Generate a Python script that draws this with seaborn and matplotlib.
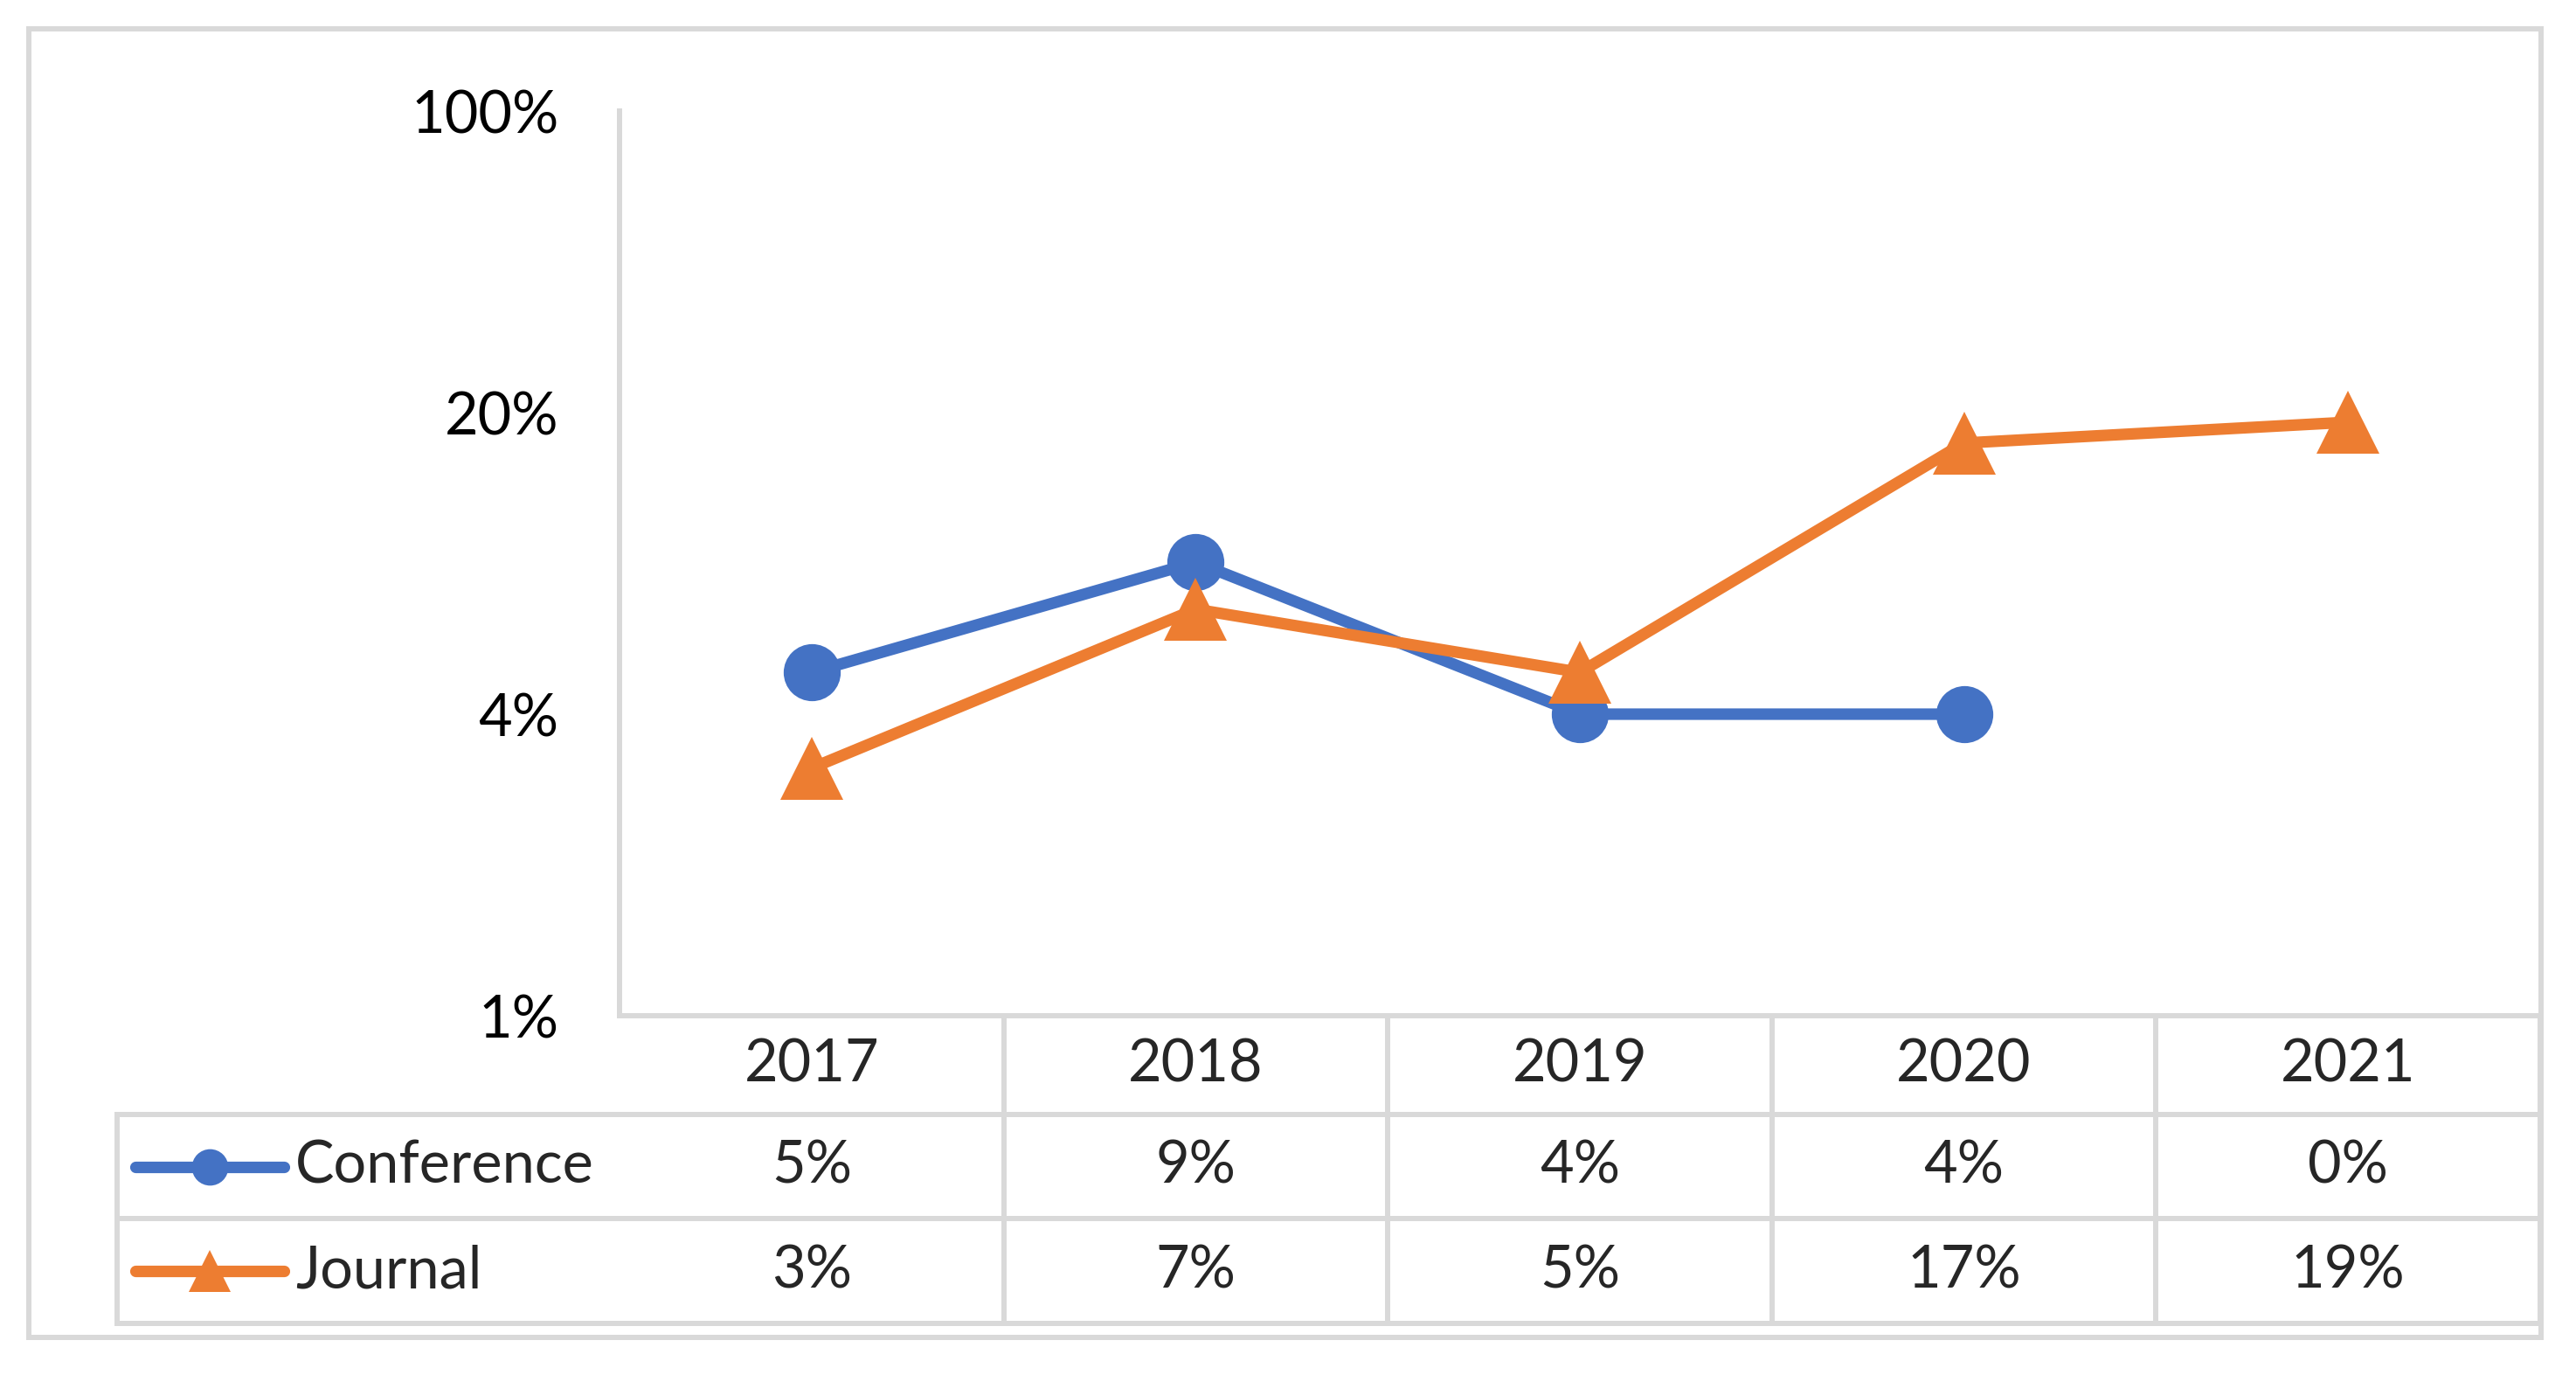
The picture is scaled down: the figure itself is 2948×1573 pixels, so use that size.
import numpy as np
import pandas as pd
import matplotlib
matplotlib.use("Agg")
import matplotlib.pyplot as plt
from matplotlib.lines import Line2D
import seaborn as sns

# data (shares per year)
years = ["2017", "2018", "2019", "2020", "2021"]
conference = [0.05, 0.09, 0.04, 0.04, 0.0]
journal = [0.03, 0.07, 0.05, 0.17, 0.19]
conference_labels = ["5%", "9%", "4%", "4%", "0%"]
journal_labels = ["3%", "7%", "5%", "17%", "19%"]
y_ticks = [0.008, 0.04, 0.2, 1.0]
y_tick_labels = ["1%", "4%", "20%", "100%"]

blue = "#4472C4"
orange = "#ED7D31"
grey = "#D9D9D9"

sns.set_style("white")
plt.rcParams['font.family'] = ['Lato', 'DejaVu Sans']

W, H = 2948, 1573
fig = plt.figure(figsize=(W / 100, H / 100), dpi=100)

# pixel layout of the chart area
left, right, top, bottom = 709, 2907, 127, 1162
ax = fig.add_axes([left / W, 1 - bottom / H, (right - left) / W, (bottom - top) / H])

df = pd.DataFrame({"x": np.arange(len(years)),
                   "Conference": [v if v > 0 else np.nan for v in conference],
                   "Journal": journal})

sns.lineplot(data=df, x="x", y="Conference", ax=ax, color=blue, linewidth=9.5,
             marker="o", markersize=47, markeredgewidth=0)
sns.lineplot(data=df, x="x", y="Journal", ax=ax, color=orange, linewidth=9.5,
             marker="^", markersize=52, markeredgewidth=0)

ax.set_yscale("log", base=5)
ax.set_ylim(y_ticks[0], y_ticks[-1])
ax.set_xlim(-0.5, len(years) - 0.5)
ax.set_yticks(y_ticks)
ax.set_yticklabels(y_tick_labels)
ax.yaxis.set_minor_locator(matplotlib.ticker.NullLocator())
ax.set_xticks([])
ax.set_xlabel("")
ax.set_ylabel("")
ax.tick_params(axis="y", length=0, pad=50, labelsize=48, labelcolor="black")
for s in ["top", "right", "bottom"]:
    ax.spines[s].set_visible(False)
ax.spines["left"].set_color(grey)
ax.spines["left"].set_linewidth(4.3)
ax.patch.set_alpha(0)

# overlay in pixel coordinates for the data table and the frame
tb = fig.add_axes([0, 0, 1, 1], zorder=-1)
tb.set_xlim(0, W)
tb.set_ylim(H, 0)
tb.axis("off")

lw = 4.3
def hline(y, x0, x1):
    tb.plot([x0, x1], [y, y], color=grey, lw=lw, solid_capstyle="projecting")

def vline(x, y0, y1):
    tb.plot([x, x], [y0, y1], color=grey, lw=lw, solid_capstyle="projecting")

# outer frame
hline(33, 33, 2908)
hline(1530, 33, 2908)
vline(33, 33, 1530)
vline(2908, 33, 1530)

rows = [1162, 1275, 1394, 1514]
label_left = 134
col_w = (right - left) / len(years)
hline(rows[0], left, right)
for y in rows[1:]:
    hline(y, label_left, right)
vline(label_left, rows[1], rows[3])
for i in range(1, len(years) + 1):
    vline(left + i * col_w, rows[0], rows[3])

fs = 48
for i, yr in enumerate(years):
    cx = left + (i + 0.5) * col_w
    tb.text(cx, (rows[0] + rows[1]) / 2, yr, ha="center", va="center", fontsize=fs)
    tb.text(cx, (rows[1] + rows[2]) / 2, conference_labels[i], ha="center", va="center", fontsize=fs)
    tb.text(cx, (rows[2] + rows[3]) / 2, journal_labels[i], ha="center", va="center", fontsize=fs)

# legend keys inside the table
for (y0, y1), name, col, mk, ms in [((rows[1], rows[2]), "Conference", blue, "o", 30),
                                     ((rows[2], rows[3]), "Journal", orange, "^", 34)]:
    cy = (y0 + y1) / 2
    tb.add_line(Line2D([155, 325], [cy, cy], color=col, lw=9.5, solid_capstyle="round"))
    tb.add_line(Line2D([240], [cy], color=col, marker=mk, markersize=ms, markeredgewidth=0))
    tb.text(338, cy, name, ha="left", va="center", fontsize=fs)

fig.savefig("out.png", dpi=100, facecolor="white")
